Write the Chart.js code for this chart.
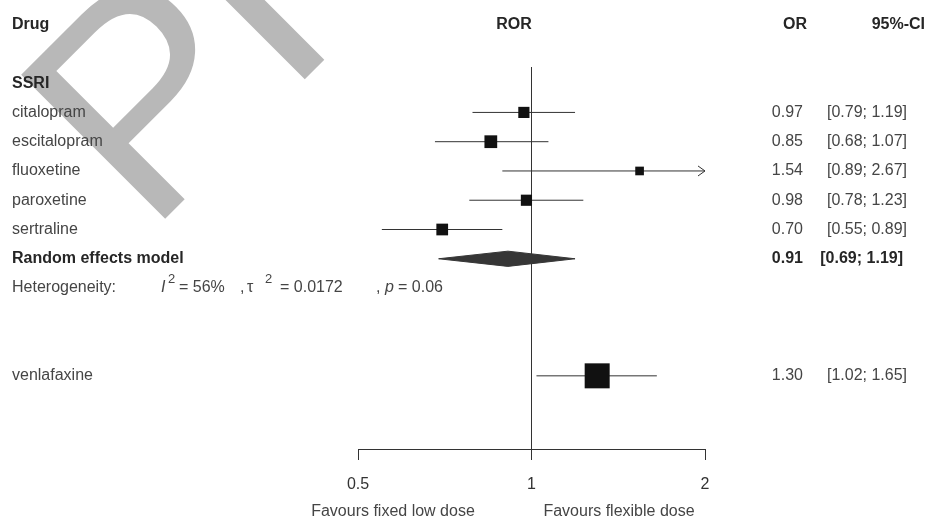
<!DOCTYPE html>
<html>
<head>
<meta charset="utf-8">
<script src="https://cdn.jsdelivr.net/npm/chart.js@4.4.1/dist/chart.umd.min.js"></script>
<style>
  html, body { margin: 0; padding: 0; background: #fff; }
</style>
</head>
<body>
<canvas id="forest" width="927" height="523"></canvas>
<script>
// SSRI studies
const drugs = ['citalopram', 'escitalopram', 'fluoxetine', 'paroxetine', 'sertraline'];
const orValues = [0.97, 0.85, 1.54, 0.98, 0.70];
const ciLower = [0.79, 0.68, 0.89, 0.78, 0.55];
const ciUpper = [1.19, 1.07, 2.67, 1.23, 0.89];
const weights = [20, 26, 12, 20, 22]; // % weight, random effects

// pooled SSRI estimate
const pooledOR = 0.91;
const pooledCI = [0.69, 1.19];
const i2 = '56%';
const tau2 = '0.0172';
const pValue = '0.06';

// venlafaxine (single comparison)
const venlaName = 'venlafaxine';
const venlaOR = 1.30;
const venlaCI = [1.02, 1.65];
const venlaWeight = 100;

const xTicks = [0.5, 1, 2];

// row layout
const ssriRow = 2;
const studyRow = i => 3 + i;
const pooledRow = 8;
const hetRow = 9;
const venlaRow = 12;
const refTop = 1.45;
const yMin = -0.5, yMax = 14.5;

const FONT = '"Liberation Sans", Arial, sans-serif';
const TXT = '#454545';
const BOLD = '#262626';
const fmt = v => v.toFixed(2);
const boxSide = w => 2.5 * Math.sqrt(w);

const xMin = xTicks[0], xMax = xTicks[xTicks.length - 1];

// squares
const boxes = drugs.map((d, i) => ({x: orValues[i], y: studyRow(i), w: weights[i]}));
boxes.push({x: venlaOR, y: venlaRow, w: venlaWeight});

// whiskers
const whiskers = drugs.map((d, i) => ({
    data: [{x: ciLower[i], y: studyRow(i)}, {x: Math.min(ciUpper[i], xMax), y: studyRow(i)}]
}));
whiskers.push({data: [{x: venlaCI[0], y: venlaRow}, {x: venlaCI[1], y: venlaRow}]});

const lineDs = (data) => ({
    data: data, showLine: true, borderColor: '#333', borderWidth: 1,
    pointRadius: 0, fill: false
});

const datasets = [
    {
        data: boxes,
        pointStyle: 'rect',
        pointRadius: ctx => boxSide(ctx.raw.w) / Math.SQRT2,
        backgroundColor: '#111',
        borderColor: '#111',
        borderWidth: 0
    },
    ...whiskers.map(w => lineDs(w.data)),
    {
        // diamond of the pooled estimate
        data: [
            {x: pooledCI[0], y: pooledRow},
            {x: pooledOR, y: pooledRow - 0.26},
            {x: pooledCI[1], y: pooledRow},
            {x: pooledOR, y: pooledRow + 0.26},
            {x: pooledCI[0], y: pooledRow}
        ],
        showLine: true, pointRadius: 0, tension: 0,
        borderColor: '#363636', borderWidth: 1,
        backgroundColor: '#363636', fill: 'shape'
    },
    lineDs([{x: 1, y: refTop}, {x: 1, y: yMax}])
];

function text(ctx, str, x, y, opts) {
    ctx.font = opts.font || ('16px ' + FONT);
    ctx.fillStyle = opts.color || TXT;
    ctx.textAlign = opts.align || 'left';
    ctx.textBaseline = 'middle';
    ctx.fillText(str, x, y);
}

const forestText = {
    id: 'forestText',
    beforeDraw(chart) {
        const ctx = chart.ctx;
        ctx.save();
        ctx.fillStyle = '#fff';
        ctx.fillRect(0, 0, chart.width, chart.height);
        // watermark
        ctx.translate(148, 236);
        ctx.rotate(-Math.PI / 4);
        ctx.font = '296px ' + FONT;
        ctx.fillStyle = '#b8b8b8';
        ctx.textBaseline = 'alphabetic';
        ctx.fillText('PREPRINT', 0, 0);
        ctx.restore();
    },
    afterDatasetsDraw(chart) {
        // arrow where CI runs past the axis
        const ctx = chart.ctx, xs = chart.scales.x, ys = chart.scales.y;
        ctx.save();
        ctx.strokeStyle = '#333';
        ctx.lineWidth = 1;
        ciUpper.forEach((hi, i) => {
            if (hi <= xMax) return;
            const px = xs.getPixelForValue(xMax), py = ys.getPixelForValue(studyRow(i));
            ctx.beginPath();
            ctx.moveTo(px - 7, py - 5);
            ctx.lineTo(px, py);
            ctx.lineTo(px - 7, py + 5);
            ctx.stroke();
        });
        ctx.restore();
    },
    afterDraw(chart) {
        const ctx = chart.ctx, ys = chart.scales.y;
        const row = r => ys.getPixelForValue(r);
        const bold = 'bold 16px ' + FONT;
        ctx.save();

        text(ctx, 'Drug', 12, row(0), {font: bold, color: BOLD});
        text(ctx, 'ROR', 514, row(0), {font: bold, color: BOLD, align: 'center'});
        text(ctx, 'OR', 807, row(0), {font: bold, color: BOLD, align: 'right'});
        text(ctx, '95%-CI', 925, row(0), {font: bold, color: BOLD, align: 'right'});

        text(ctx, 'SSRI', 12, row(ssriRow), {font: bold, color: BOLD});
        drugs.forEach((d, i) => {
            const y = row(studyRow(i));
            text(ctx, d, 12, y, {});
            text(ctx, fmt(orValues[i]), 803, y, {align: 'right'});
            text(ctx, '[' + fmt(ciLower[i]) + '; ' + fmt(ciUpper[i]) + ']', 907, y, {align: 'right'});
        });

        let y = row(pooledRow);
        text(ctx, 'Random effects model', 12, y, {font: bold, color: BOLD});
        text(ctx, fmt(pooledOR), 803, y, {font: bold, color: BOLD, align: 'right'});
        text(ctx, '[' + fmt(pooledCI[0]) + '; ' + fmt(pooledCI[1]) + ']', 903, y, {font: bold, color: BOLD, align: 'right'});

        // heterogeneity line
        y = row(hetRow);
        const ital = 'italic 16px ' + FONT;
        const sup = '13px ' + FONT;
        text(ctx, 'Heterogeneity:', 12, y, {});
        text(ctx, 'I', 161, y, {font: ital});
        text(ctx, '2', 168, y - 9, {font: sup});
        text(ctx, '= ' + i2, 179, y, {});
        text(ctx, ',', 240, y, {});
        text(ctx, '\u03c4', 247, y, {});
        text(ctx, '2', 265, y - 9, {font: sup});
        text(ctx, '= ' + tau2, 280, y, {});
        text(ctx, ',', 376, y, {});
        text(ctx, 'p', 385, y, {font: ital});
        text(ctx, '= ' + pValue, 398, y, {});

        y = row(venlaRow);
        text(ctx, venlaName, 12, y, {});
        text(ctx, fmt(venlaOR), 803, y, {align: 'right'});
        text(ctx, '[' + fmt(venlaCI[0]) + '; ' + fmt(venlaCI[1]) + ']', 907, y, {align: 'right'});

        text(ctx, 'Favours fixed low dose', 393, 512, {align: 'center'});
        text(ctx, 'Favours flexible dose', 619, 512, {align: 'center'});
        ctx.restore();
    }
};

new Chart(document.getElementById('forest'), {
    type: 'scatter',
    data: {datasets: datasets},
    options: {
        responsive: false,
        animation: false,
        layout: {autoPadding: false, padding: {left: 358, right: 222, top: 10, bottom: 24}},
        plugins: {legend: {display: false}, tooltip: {enabled: false}},
        scales: {
            x: {
                type: 'logarithmic',
                min: xMin,
                max: xMax,
                position: 'bottom',
                afterBuildTicks: s => { s.ticks = xTicks.map(v => ({value: v})); },
                afterFit: s => { s.height = 50; },
                ticks: {
                    callback: v => String(v),
                    color: '#333',
                    font: {size: 16, family: FONT},
                    padding: 15,
                    maxRotation: 0,
                    autoSkip: false
                },
                grid: {display: true, drawOnChartArea: false, drawTicks: true, tickLength: 11, color: '#333', lineWidth: 1},
                border: {display: true, color: '#333', width: 1}
            },
            y: {
                type: 'linear',
                reverse: true,
                min: yMin,
                max: yMax,
                display: false
            }
        }
    },
    plugins: [forestText]
});
</script>
</body>
</html>
